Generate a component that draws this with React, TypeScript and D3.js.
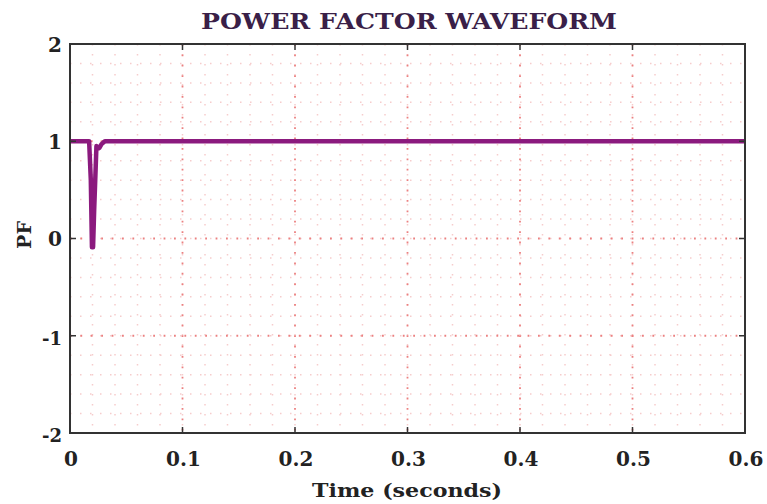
import React from "react";
import * as d3 from "d3";

const times = [0, 0.017, 0.0185, 0.0195, 0.0205, 0.0215, 0.0235, 0.026, 0.028, 0.031, 0.034, 0.1, 0.2, 0.3, 0.4, 0.5, 0.6];
const pfValues = [1, 1, 0.6, -0.09, -0.09, 0.3, 0.95, 0.93, 0.97, 1.0, 1.0, 1, 1, 1, 1, 1, 1];
const xTicks = [0, 0.1, 0.2, 0.3, 0.4, 0.5, 0.6];
const yTicks = [-2, -1, 0, 1, 2];

export default function App() {
  const W = 767, H = 504;
  const m = { left: 70, right: 745, top: 44, bottom: 433 };
  const x = d3.scaleLinear().domain([0, 0.6]).range([m.left, m.right]);
  const y = d3.scaleLinear().domain([-2, 2]).range([m.bottom, m.top]);
  const line = d3.line<number>().x((_, i) => x(times[i])).y((d) => y(d));
  const xMinor = d3.range(0, 31).map((i) => i * 0.02);
  const yMinor = d3.range(0, 21).map((i) => -2 + i * 0.2);
  const font = "'DejaVu Serif', serif";
  return (
    <svg width={W} height={H} style={{ position: "absolute", left: 0, top: 0, background: "#fff" }}>
      <rect width={W} height={H} fill="#fff" />
      {xMinor.map((t, i) => (
        <line key={"xm" + i} x1={x(t)} x2={x(t)} y1={m.top} y2={m.bottom} stroke="#f6cccc" strokeWidth={1.5} strokeDasharray="1.5 8.5" />
      ))}
      {yMinor.map((v, i) => (
        <line key={"ym" + i} x1={m.left} x2={m.right} y1={y(v)} y2={y(v)} stroke="#f6cccc" strokeWidth={1.5} strokeDasharray="1.5 8.5" />
      ))}
      {xTicks.map((t, i) => (
        <line key={"xg" + i} x1={x(t)} x2={x(t)} y1={m.top} y2={m.bottom} stroke="#ec8080" strokeWidth={1.8} strokeDasharray="1.8 8.6" />
      ))}
      {yTicks.map((v, i) => (
        <line key={"yg" + i} x1={m.left} x2={m.right} y1={y(v)} y2={y(v)} stroke="#ec8080" strokeWidth={1.8} strokeDasharray="1.8 8.6" />
      ))}
      <path d={line(pfValues) || ""} fill="none" stroke="#8b1a7e" strokeWidth={4.5} strokeLinejoin="round" />
      <rect x={m.left} y={m.top} width={m.right - m.left} height={m.bottom - m.top} fill="none" stroke="#333" strokeWidth={2} />
      {xTicks.map((t, i) => (
        <g key={"xt" + i}>
          <line x1={x(t)} x2={x(t)} y1={m.bottom} y2={m.bottom - 6} stroke="#333" strokeWidth={1.5} />
          <line x1={x(t)} x2={x(t)} y1={m.top} y2={m.top + 6} stroke="#333" strokeWidth={1.5} />
          <text x={x(t) + 1} y={m.bottom + 33} textAnchor="middle" fontFamily={font} fontWeight="bold" fontSize={20} fill="#222">
            {t === 0 ? "0" : String(t)}
          </text>
        </g>
      ))}
      {yTicks.map((v, i) => (
        <g key={"yt" + i}>
          <line x1={m.left} x2={m.left + 6} y1={y(v)} y2={y(v)} stroke="#333" strokeWidth={1.5} />
          <line x1={m.right} x2={m.right - 6} y1={y(v)} y2={y(v)} stroke="#333" strokeWidth={1.5} />
          <text x={m.left - 8} y={y(v) + (v < 0 ? 9 : 7.5)} textAnchor="end" fontFamily={font} fontWeight="bold" fontSize={v < 0 ? 18 : 20} fill="#222">
            {String(v)}
          </text>
        </g>
      ))}
      <text x={409} y={29} textAnchor="middle" fontFamily={font} fontWeight="bold" fontSize={22} fill="#3a1f48" textLength={416} lengthAdjust="spacingAndGlyphs">
        POWER FACTOR WAVEFORM
      </text>
      <text x={407} y={497} textAnchor="middle" fontFamily={font} fontWeight="bold" fontSize={19} fill="#222" textLength={190} lengthAdjust="spacingAndGlyphs">
        Time (seconds)
      </text>
      <text transform={`translate(31,235) rotate(-90)`} textAnchor="middle" fontFamily={font} fontWeight="bold" fontSize={19} fill="#222">
        PF
      </text>
    </svg>
  );
}
